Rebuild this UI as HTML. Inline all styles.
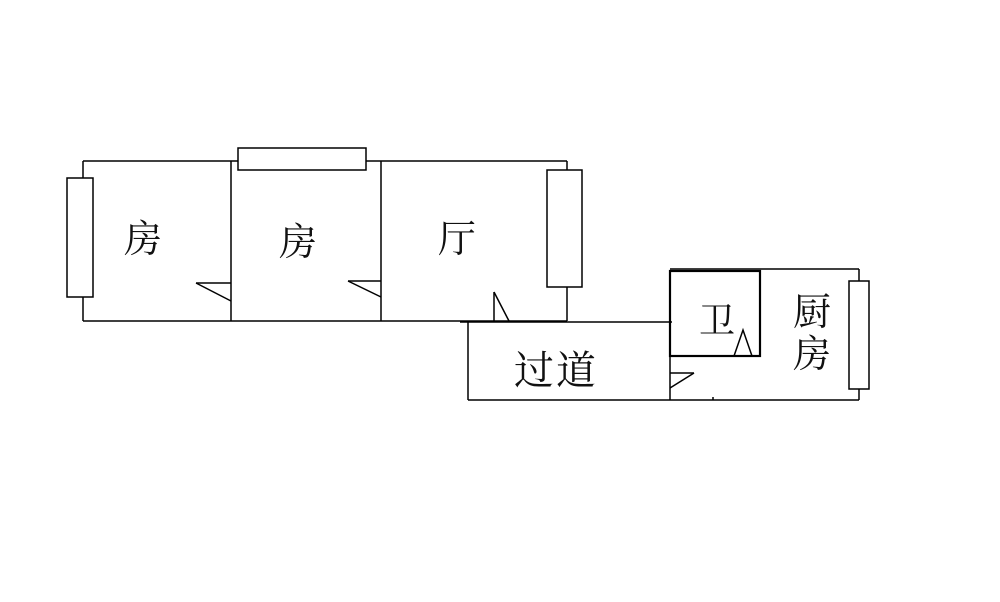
<!DOCTYPE html>
<html><head><meta charset="utf-8"><style>
html,body{margin:0;padding:0;background:#fff;}
svg{display:block;}
text{font-family:"Liberation Serif","Noto Serif CJK SC",serif;fill:#111;}
</style></head><body>
<svg width="1000" height="602" viewBox="0 0 1000 602" xmlns="http://www.w3.org/2000/svg">
<g stroke="#000" stroke-width="1.5" fill="none">
<!-- top block -->
<line x1="83" y1="161" x2="567" y2="161"/>
<line x1="83" y1="321" x2="567" y2="321"/>
<line x1="83" y1="161" x2="83" y2="321"/>
<line x1="231" y1="161" x2="231" y2="321"/>
<line x1="381" y1="161" x2="381" y2="321"/>
<line x1="567" y1="161" x2="567" y2="321"/>
<rect x="67" y="178" width="26" height="119" fill="#fff"/>
<rect x="238" y="148" width="128" height="22" fill="#fff"/>
<rect x="547" y="170" width="35" height="117" fill="#fff"/>
<!-- doors -->
<polyline points="196,283 231,283"/><line x1="196" y1="283" x2="231" y2="301"/>
<polyline points="348,281 381,281"/><line x1="348" y1="281" x2="381" y2="297"/>
<line x1="494" y1="292" x2="494" y2="321"/><line x1="494" y1="292" x2="509" y2="321"/>
<!-- corridor -->
<line x1="460" y1="322" x2="672" y2="322"/>
<line x1="468" y1="322" x2="468" y2="400"/>
<line x1="468" y1="400" x2="859" y2="400"/>
<line x1="670" y1="322" x2="670" y2="400"/>
<!-- right block -->
<line x1="670" y1="269" x2="859" y2="269"/>
<line x1="859" y1="269" x2="859" y2="400"/>
<rect x="670" y="271" width="90" height="85" stroke-width="2.2"/>
<rect x="849" y="281" width="20" height="108" fill="#fff"/>
<polyline points="734,356 743,330 752,356"/>
<line x1="670" y1="373" x2="694" y2="373"/><line x1="694" y1="373" x2="670" y2="388"/>
<line x1="713" y1="397" x2="713" y2="400"/>
</g>
<g font-size="38" text-anchor="middle">
<text x="143" y="252">房</text>
<text x="298" y="255">房</text>
<text x="457" y="252">厅</text>
<text x="717" y="333" font-size="36">卫</text>
<text x="812" y="325" font-size="38">厨</text>
<text x="812" y="367" font-size="38">房</text>
<text x="556" y="384" font-size="40" letter-spacing="2">过道</text>
</g>
</svg>
</body></html>
